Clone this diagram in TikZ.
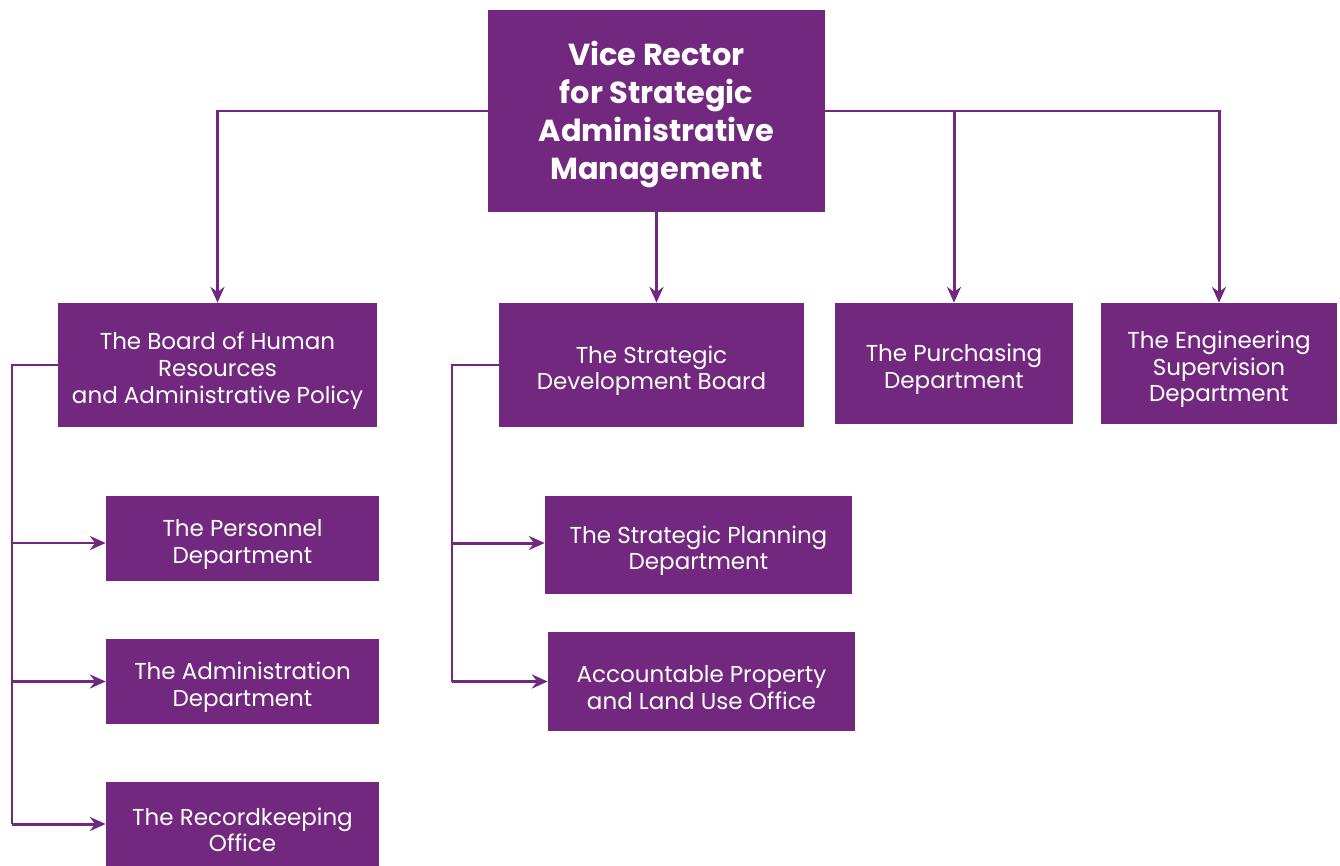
\documentclass[tikz,border=0pt]{standalone}
\usepackage{fontspec}
\setmainfont{Poppins}
\usetikzlibrary{arrows.meta}
\definecolor{boxColor}{HTML}{72287E}
\newcommand{\unitFont}{\fontsize{13.1}{15.2}\selectfont}
\newcommand{\titleFont}{\fontsize{17.3}{21.6}\selectfont\bfseries}
% pushes the first line down a little
\newcommand{\topGap}{\rule{0pt}{16.5pt}}
\tikzstyle{plainBox} = [fill=boxColor, text=white, align=center, inner sep=0pt]
\tikzstyle{unitBox} = [plainBox, font=\unitFont]
\tikzstyle{headBox} = [plainBox, font=\titleFont]
\tikzstyle{linkLine} = [draw=boxColor, line width=1.7pt]
\tikzstyle{linkArrow} = [linkLine, -{Stealth[length=9pt, width=8pt, inset=3pt]}]
\begin{document}
\begin{tikzpicture}[x=0.02cm, y=-0.02cm]
  \useasboundingbox (0,0) rectangle (1340,866);
  % head
  \node[headBox, minimum width=6.74cm, minimum height=4.04cm] (rector) at (656.5,111) {\rule{0pt}{17.5pt}Vice Rector\\for Strategic\\Administrative\\Management};
  % first level
  \node[unitBox, minimum width=6.38cm, minimum height=2.48cm] (hrBoard) at (217.5,365) {\topGap The Board of Human\\Resources\\and Administrative Policy};
  \node[unitBox, minimum width=6.10cm, minimum height=2.48cm] (devBoard) at (651.5,365) {\topGap The Strategic\\Development Board};
  \node[unitBox, minimum width=4.76cm, minimum height=2.42cm] (purchasing) at (954,363.5) {\topGap The Purchasing\\Department};
  \node[unitBox, minimum width=4.72cm, minimum height=2.42cm] (engineering) at (1219,363.5) {\topGap The Engineering\\Supervision\\Department};
  % second level
  \node[unitBox, minimum width=5.46cm, minimum height=1.70cm] (personnel) at (242.5,538.5) {\topGap The Personnel\\Department};
  \node[unitBox, minimum width=5.46cm, minimum height=1.70cm] (admin) at (242.5,681.5) {\topGap The Administration\\Department};
  \node[unitBox, minimum width=5.46cm, minimum height=1.68cm] (records) at (242.5,824) {\topGap The Recordkeeping\\Office};
  \node[unitBox, minimum width=6.14cm, minimum height=1.96cm] (planning) at (698.5,545) {\topGap The Strategic Planning\\Department};
  \node[unitBox, minimum width=6.14cm, minimum height=1.98cm] (property) at (701.5,681.5) {\topGap Accountable Property\\and Land Use Office};
  % rails
  \coordinate (hrRail) at (12,0);
  \coordinate (devRail) at (452,0);
  % connectors from the head
  \draw[linkArrow] (rector.west) -| (hrBoard.north);
  \draw[linkArrow] (rector.south) -- (rector.south |- devBoard.north);
  \draw[linkArrow] (rector.east) -| (engineering.north);
  \draw[linkArrow] (rector.east -| purchasing.north) -- (purchasing.north);
  % left bracket
  \draw[linkLine] (hrBoard.west) -- (hrBoard.west -| hrRail) -- (records.west -| hrRail);
  \foreach \unit/\dy in {personnel/-0.09, admin/0, records/0}
    \draw[linkArrow] ([yshift=\dy cm]\unit.west -| hrRail) -- ([yshift=\dy cm]\unit.west);
  % middle bracket
  \draw[linkLine] (devBoard.west) -- (devBoard.west -| devRail) -- (property.west -| devRail);
  \foreach \unit/\dy in {planning/0.04, property/0}
    \draw[linkArrow] ([yshift=\dy cm]\unit.west -| devRail) -- ([yshift=\dy cm]\unit.west);
\end{tikzpicture}
\end{document}
